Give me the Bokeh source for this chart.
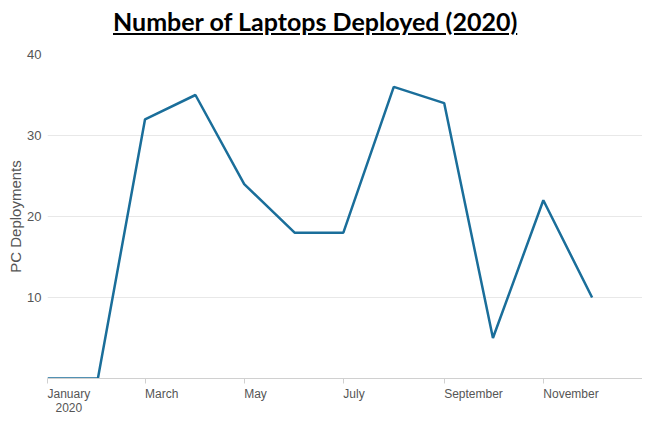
import pandas as pd
from bokeh.plotting import figure
from bokeh.models import Div, FixedTicker, ColumnDataSource
from bokeh.layouts import column
from bokeh.embed import file_html
from bokeh.resources import INLINE

months = ["2020-01-01", "2020-02-01", "2020-03-01", "2020-04-01", "2020-05-01", "2020-06-01",
          "2020-07-01", "2020-08-01", "2020-09-01", "2020-10-01", "2020-11-01", "2020-12-01"]
deployments = [0, 0, 32, 35, 24, 18, 18, 36, 34, 5, 22, 10]
tick_dates = ["2020-01-01", "2020-03-01", "2020-05-01", "2020-07-01", "2020-09-01", "2020-11-01", "2021-01-01"]
tick_labels = ["January\n2020", "March", "May", "July", "September", "November", ""]
y_ticks = [10, 20, 30, 40]
title_text = "Number of Laptops Deployed (2020)"

# Arial / Liberation Sans advance widths (per 1000 em) used to left-align tick labels
ARIAL_W = {"J": 500, "a": 556, "n": 556, "u": 556, "r": 333, "y": 500, "M": 833, "c": 500,
           "h": 556, "S": 667, "e": 556, "p": 556, "t": 278, "m": 833, "b": 556, "N": 722,
           "o": 556, "v": 500, "l": 222, "0": 556, "2": 556}
LABEL_PX = 12

FIG_W, BORDER_L, BORDER_R = 642, 47, 0

title = Div(text=f'<div style="padding-left:108px;font-family:Lato;font-weight:bold;'
                 f'font-size:25px;color:#000;line-height:30px;padding-top:1px;white-space:nowrap">'
                 f'<u>{title_text}</u></div>',
            width=636, height=34)

x = pd.to_datetime(months)
src = ColumnDataSource(dict(x=x, y=deployments))

x_start, x_end = pd.Timestamp("2020-01-01"), pd.Timestamp("2021-01-01")
p = figure(width=FIG_W, height=373, x_axis_type="datetime", output_backend="svg",
           toolbar_location=None, min_border_left=BORDER_L, min_border_right=BORDER_R,
           min_border_top=10, min_border_bottom=30,
           x_range=(x_start, x_end), y_range=(0, 40))
p.outline_line_color = None
p.line("x", "y", source=src, line_color="#1a6e9a", line_width=2.5)

# tick marks at the month starts (minor ticks); labels centred half their width to the right
ms_per_px = (x_end - x_start).total_seconds() * 1000 / (FIG_W - BORDER_L - BORDER_R)
tick_ms = [pd.Timestamp(d).value / 1e6 for d in tick_dates]
label_ms, overrides = [], {}
for t, lab in zip(tick_ms, tick_labels):
    if not lab:
        continue
    w = max(sum(ARIAL_W.get(c, 556) for c in line) for line in lab.split("\n")) * LABEL_PX / 1000
    pos = t + (w / 2) * ms_per_px
    label_ms.append(pos)
    overrides[pos] = lab

p.xaxis.ticker = FixedTicker(ticks=label_ms, minor_ticks=tick_ms)
p.xaxis.major_label_overrides = overrides
p.xaxis.major_label_text_font = "Liberation Sans"
p.xaxis.major_label_text_font_size = f"{LABEL_PX}px"
p.xaxis.major_label_text_color = "#555555"
p.xaxis.major_label_text_line_height = 1.0
p.xaxis.major_label_standoff = 3
p.xaxis.major_tick_out = 0
p.xaxis.major_tick_in = 0
p.xaxis.major_tick_line_color = None
p.xaxis.minor_tick_out = 5
p.xaxis.minor_tick_in = 0
p.xaxis.minor_tick_line_color = "#d0d0d0"
p.xaxis.axis_line_color = "#d0d0d0"
p.xgrid.grid_line_color = None

p.yaxis.ticker = FixedTicker(ticks=y_ticks)
p.yaxis.axis_line_color = None
p.yaxis.major_tick_line_color = None
p.yaxis.major_tick_out = 0
p.yaxis.major_tick_in = 0
p.yaxis.minor_tick_line_color = None
p.yaxis.major_label_standoff = 6
p.yaxis.major_label_text_font = "Liberation Sans"
p.yaxis.major_label_text_font_size = "13px"
p.yaxis.major_label_text_color = "#555555"
p.yaxis.axis_label = "PC Deployments"
p.yaxis.axis_label_text_font = "Liberation Sans"
p.yaxis.axis_label_text_font_style = "normal"
p.yaxis.axis_label_text_font_size = "15px"
p.yaxis.axis_label_text_color = "#555555"
p.yaxis.axis_label_standoff = 0
p.ygrid.grid_line_color = "#e8e8e8"

layout = column(title, p, spacing=0)
open("out.html", "w").write(file_html(layout, INLINE))
